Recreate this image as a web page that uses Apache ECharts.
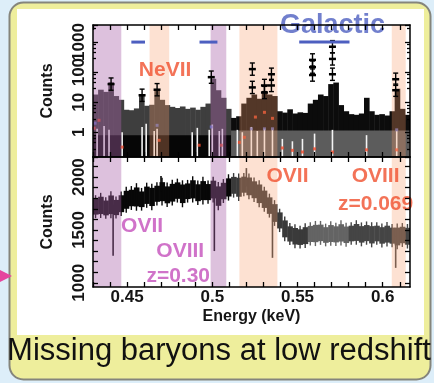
<!DOCTYPE html>
<html>
<head>
<meta charset="utf-8">
<title>Missing baryons at low redshift</title>
<script src="https://cdn.jsdelivr.net/npm/echarts@6/dist/echarts.min.js"></script>
<style>
  html, body { margin: 0; padding: 0; background: #ddeef9; }
  #chart { width: 434px; height: 383px; }
</style>
</head>
<body>
<div id="chart"></div>
<script>
// energy bin centres (keV), both panels use the same binning
const energy = [0.4315, 0.4345, 0.4375, 0.4405, 0.4435, 0.4465, 0.4495, 0.4525, 0.4555, 0.4585,
  0.4615, 0.4645, 0.4675, 0.4705, 0.4735, 0.4765, 0.4795, 0.4825, 0.4855, 0.4885,
  0.4915, 0.4945, 0.4975, 0.5005, 0.5035, 0.5065, 0.5095, 0.5125, 0.5155, 0.5185,
  0.5215, 0.5245, 0.5275, 0.5305, 0.5335, 0.5365, 0.5395, 0.5425, 0.5455, 0.5485,
  0.5515, 0.5545, 0.5575, 0.5605, 0.5635, 0.5665, 0.5695, 0.5725, 0.5755, 0.5785,
  0.5815, 0.5845, 0.5875, 0.5905, 0.5935, 0.5965, 0.5995, 0.6025, 0.6055, 0.6085,
  0.6115, 0.6145];

// upper panel (log counts)
const topCounts = [18, 26, 22, 46, 16, 12, 5.6, 5.4, 6.2, 18,
  7.6, 8.2, 26, 12, 8, 7, 6.4, 7.2, 6, 6.6,
  5.6, 7, 9, 60, 25, 14, 6, 3, 3.4, 9,
  14, 18, 13, 21, 18, 16, 5, 4.5, 5.8, 4.2,
  4.6, 4.4, 9, 12, 18, 16, 40, 45, 8, 5,
  4, 3.8, 4.2, 14, 5, 3.8, 4, 3.6, 5, 28,
  6, 3.8];

// lower panel (counts, band centre and half width)
const bottomCounts = [1720, 1732, 1708, 1738, 1712, 1748, 1785, 1802, 1812, 1790,
  1828, 1812, 1842, 1862, 1832, 1852, 1872, 1842, 1866, 1884,
  1852, 1872, 1858, 1882, 1820, 1868, 1902, 1922, 1904, 1928,
  1912, 1880, 1842, 1790, 1730, 1660, 1590, 1510, 1462, 1440,
  1432, 1446, 1462, 1466, 1472, 1452, 1466, 1458, 1472, 1454,
  1466, 1476, 1458, 1470, 1454, 1466, 1448, 1460, 1446, 1438,
  1452, 1440];
const bottomErr = [75, 82, 70, 88, 72, 80, 85, 78, 90, 74,
  82, 86, 76, 90, 80, 84, 78, 88, 74, 86,
  80, 90, 76, 84, 92, 78, 86, 80, 90, 76,
  84, 80, 88, 82, 78, 84, 76, 80, 72, 78,
  74, 80, 76, 82, 78, 74, 80, 76, 82, 78,
  74, 80, 78, 76, 82, 74, 78, 80, 76, 84,
  78, 80];
const bottomWhiskers = [[0.4418, 1255], [0.5012, 1300], [0.5353, 1236], [0.6076, 1141],
  [0.5200, 2085], [0.4699, 2010]];

// data points with error bars in the upper panel
const topPoints = [[0.4406, 40], [0.4588, 17], [0.4676, 26], [0.4994, 68],
  [0.5235, 126], [0.5235, 31], [0.5306, 36], [0.5306, 21], [0.5347, 85], [0.5347, 36],
  [0.5588, 255], [0.5588, 147], [0.5588, 80], [0.5705, 700], [0.5705, 275], [0.5705, 85],
  [0.6076, 58], [0.6076, 25]];
const topRedDots = [[0.4306, 1.36], [0.4335, 2.5], [0.4471, 0.32], [0.4688, 0.54], [0.4923, 0.37],
  [0.5053, 0.37], [0.5159, 0.46], [0.5188, 0.68], [0.5253, 3.2], [0.5306, 4.6], [0.5353, 2.9],
  [0.5411, 0.3], [0.547, 0.25], [0.5529, 0.22], [0.56, 0.28], [0.5705, 0.22], [0.5905, 0.26],
  [0.6082, 0.26]];
const topBlueDots = [[0.4312, 2.0], [0.4676, 1.7], [0.4994, 1.5], [0.5229, 1.3], [0.5306, 1.3],
  [0.5353, 1.3], [0.6082, 1.2]];
const zeroLines = [[0.4324, 1.3], [0.4365, 1.6], [0.4394, 1.2], [0.4471, 1.0], [0.4588, 1.5],
  [0.4612, 1.9], [0.4659, 1.1], [0.4676, 1.3], [0.4882, 1.0], [0.4912, 1.4], [0.4982, 1.2],
  [0.5, 1.8], [0.5041, 1.1], [0.5059, 1.3], [0.5147, 1.2], [0.5176, 1.0], [0.5229, 1.5],
  [0.5264, 1.1], [0.5306, 1.3], [0.5353, 1.2], [0.5411, 0.6], [0.547, 0.5], [0.5529, 0.6],
  [0.56, 0.9], [0.5705, 1.2], [0.5905, 0.8], [0.6082, 1.1]];
const lowStrip = [[0.43, 0.511, 0.8], [0.511, 0.616, 1.15]];

// line windows
const purpleBands = [[0.43, 0.4466], [0.499, 0.5082]];
const orangeBands = [[0.5159, 0.5382], [0.6053, 0.6135]];
const neviiBand = [[0.4632, 0.4747]];
const galacticBars = [[0.4525, 0.4605, 1000], [0.4925, 0.503, 1000], [0.551, 0.5805, 1000]];

// ticks
const xTicks = [0.43, 0.44, 0.45, 0.46, 0.47, 0.48, 0.49, 0.5, 0.51, 0.52,
  0.53, 0.54, 0.55, 0.56, 0.57, 0.58, 0.59, 0.6, 0.61];
const xLabels = [0.45, 0.5, 0.55, 0.6];
const countTicks = [1000, 1100, 1200, 1300, 1400, 1500, 1600, 1700, 1800, 1900, 2000, 2100];
const countLabels = [1000, 1500, 2000];

// annotations
const neviiNote = [{ name: 'NeVII', value: [0.4723, 117] }];
const galacticNote = [{ name: 'Galactic', value: [0.5705, 1000] }];
const redNotes = [{ name: 'OVII', value: [0.5441, 2009] }, { name: 'OVIII', value: [0.5958, 2009] },
  { name: 'z=0.069', value: [0.5958, 1745] }];
const pinkNotes = [{ name: 'OVII', value: [0.4588, 1537] }, { name: 'OVIII', value: [0.4812, 1302] },
  { name: 'z=0.30', value: [0.48, 1066] }];

const BIN = 0.003;
const FONT = 'Liberation Sans';
const PURPLE = 'rgba(170,100,170,0.4)';
const ORANGE = 'rgba(250,155,105,0.3)';

function gridBottom(params) { return params.coordSys.y + params.coordSys.height; }

function topFillColor(e) { return e < 0.511 ? '#3e3e3e' : '#0c0c0c'; }
function bottomFillColor(e) {
  if (e < 0.511) return '#080808';
  if (e < 0.557) return '#3a3a3a';
  if (e < 0.581) return '#646464';
  return '#454545';
}

function renderTopBin(params, api) {
  const e = api.value(0);
  const a = api.coord([e - BIN / 2, api.value(1)]);
  const b = api.coord([e + BIN / 2, api.value(1)]);
  return { type: 'rect', shape: { x: a[0], y: a[1], width: b[0] - a[0] + 0.5, height: gridBottom(params) - a[1] },
    style: { fill: topFillColor(e) } };
}

function renderStrip(params, api) {
  const a = api.coord([api.value(0), api.value(2)]);
  const b = api.coord([api.value(1), api.value(2)]);
  return { type: 'rect', shape: { x: a[0], y: a[1], width: b[0] - a[0], height: gridBottom(params) - a[1] },
    style: { fill: params.dataIndex === 0 ? '#060606' : '#5c5c5c' } };
}

function renderZero(params, api) {
  const a = api.coord([api.value(0), api.value(1)]);
  return { type: 'line', shape: { x1: a[0], y1: a[1], x2: a[0], y2: gridBottom(params) },
    style: { stroke: '#f4f4f4', lineWidth: 1.6 } };
}

function renderBand(color) {
  return function (params, api) {
    const cs = params.coordSys;
    const a = api.coord([api.value(0), 1000]);
    const b = api.coord([api.value(1), 1000]);
    return { type: 'rect', shape: { x: a[0], y: cs.y, width: b[0] - a[0], height: cs.height }, style: { fill: color } };
  };
}

function renderPoint(params, api) {
  const e = api.value(0), v = api.value(1);
  const c = api.coord([e, v]);
  const hi = api.coord([e, v * 1.6]);
  const lo = api.coord([e, v / 1.6]);
  const st = { stroke: '#000', lineWidth: 1.4 };
  return { type: 'group', children: [
    { type: 'line', shape: { x1: c[0], y1: hi[1], x2: c[0], y2: lo[1] }, style: st },
    { type: 'line', shape: { x1: c[0] - 3.5, y1: c[1], x2: c[0] + 3.5, y2: c[1] }, style: { stroke: '#000', lineWidth: 2.5 } },
    { type: 'line', shape: { x1: c[0] - 2.5, y1: hi[1], x2: c[0] + 2.5, y2: hi[1] }, style: st },
    { type: 'line', shape: { x1: c[0] - 2.5, y1: lo[1], x2: c[0] + 2.5, y2: lo[1] }, style: st }
  ] };
}

function renderGalactic(params, api) {
  const a = api.coord([api.value(0), api.value(2)]);
  const b = api.coord([api.value(1), api.value(2)]);
  return { type: 'line', shape: { x1: a[0], y1: a[1], x2: b[0], y2: b[1] }, style: { stroke: '#4d5fc0', lineWidth: 3 } };
}

function renderBottomBin(params, api) {
  const e = api.value(0), c = api.value(1), err = api.value(2);
  const a = api.coord([e - BIN / 2, c + err]);
  const b = api.coord([e + BIN / 2, c - err]);
  const hi = api.coord([e, c + err * 1.45]);
  const lo = api.coord([e, c - err * 1.45]);
  const fill = bottomFillColor(e);
  return { type: 'group', children: [
    { type: 'rect', shape: { x: a[0], y: a[1], width: b[0] - a[0] + 0.5, height: b[1] - a[1] }, style: { fill: fill } },
    { type: 'line', shape: { x1: hi[0], y1: hi[1], x2: lo[0], y2: lo[1] }, style: { stroke: fill, lineWidth: 1.4 } }
  ] };
}

function renderWhisker(params, api) {
  const e = api.value(0);
  let k = 0;
  energy.forEach(function (x, i) { if (Math.abs(x - e) < Math.abs(energy[k] - e)) k = i; });
  const a = api.coord([e, bottomCounts[k]]);
  const b = api.coord([e, api.value(1)]);
  return { type: 'line', shape: { x1: a[0], y1: a[1], x2: b[0], y2: b[1] }, style: { stroke: bottomFillColor(e), lineWidth: 1.6 } };
}

function custom(name, data, render, xi, yi, z) {
  return { name: name, type: 'custom', xAxisIndex: xi, yAxisIndex: yi, data: data, renderItem: render,
    clip: true, silent: true, z: z };
}

function dots(data, color, xi, yi) {
  return { type: 'scatter', xAxisIndex: xi, yAxisIndex: yi, data: data, symbol: 'rect', symbolSize: 3,
    itemStyle: { color: color }, silent: true, z: 4 };
}

function notes(data, color, size, xi, yi, pos, dist) {
  return { type: 'scatter', xAxisIndex: xi, yAxisIndex: yi, data: data, symbolSize: 1,
    itemStyle: { color: 'rgba(0,0,0,0)' }, silent: true, z: 8,
    label: { show: true, position: pos, distance: dist, formatter: function (p) { return p.name; },
      color: color, fontSize: size, fontWeight: 'bold', fontFamily: FONT } };
}

const frame = { onZero: false, lineStyle: { color: '#000', width: 1.5 } };
const tickStyle = { color: '#000', width: 1.3 };
const labelFont = { color: '#151515', fontSize: 17, fontWeight: 'bold', fontFamily: FONT };
const nameFont = { color: '#151515', fontSize: 16, fontWeight: 'bold', fontFamily: FONT };

function xAxisFor(grid, pos, showLabels) {
  const ax = {
    type: 'value', gridIndex: grid, position: pos, min: 0.43, max: 0.616, z: 10,
    axisLine: frame,
    axisTick: { inside: true, length: 5, customValues: xTicks, lineStyle: tickStyle },
    axisLabel: showLabels ? Object.assign({ customValues: xLabels, margin: 2 }, labelFont) : { show: false },
    splitLine: { show: false }
  };
  if (showLabels) {
    ax.name = 'Energy (keV)';
    ax.nameLocation = 'middle';
    ax.nameGap = 22;
    ax.nameTextStyle = nameFont;
  }
  return ax;
}

function logAxis(pos, showLabels) {
  const ax = {
    type: 'log', logBase: 10, gridIndex: 0, position: pos, min: 0.15, max: 3700, z: 10,
    axisLine: frame,
    axisTick: { inside: true, length: 5, lineStyle: tickStyle },
    minorTick: { show: true, splitNumber: 5, length: 3, lineStyle: tickStyle },
    axisLabel: showLabels ? Object.assign({ rotate: 90, margin: 5, showMinLabel: false, showMaxLabel: false,
      formatter: function (v) { return v >= 1 ? String(Math.round(v)) : String(v); } }, labelFont) : { show: false },
    splitLine: { show: false }
  };
  if (showLabels) {
    ax.name = 'Counts';
    ax.nameLocation = 'middle';
    ax.nameGap = 37;
    ax.nameTextStyle = nameFont;
  }
  return ax;
}

function countAxis(pos, showLabels) {
  const ax = {
    type: 'value', gridIndex: 1, position: pos, min: 960, max: 2190, z: 10,
    axisLine: frame,
    axisTick: { inside: true, length: 5, customValues: countTicks, lineStyle: tickStyle },
    axisLabel: showLabels ? Object.assign({ rotate: 90, margin: 5, customValues: countLabels,
      formatter: function (v) { return String(v); } }, labelFont) : { show: false },
    splitLine: { show: false }
  };
  if (showLabels) {
    ax.name = 'Counts';
    ax.nameLocation = 'middle';
    ax.nameGap = 37;
    ax.nameTextStyle = nameFont;
  }
  return ax;
}

const chart = echarts.init(document.getElementById('chart'), null, { renderer: 'canvas' });

chart.setOption({
  backgroundColor: '#ddeef9',
  animation: false,
  textStyle: { fontFamily: FONT },
  graphic: [
    { type: 'rect', silent: true, shape: { x: 9.5, y: 2.5, width: 421, height: 377, r: 14 },
      style: { fill: '#eeee9c', stroke: '#85857c', lineWidth: 2 } },
    { type: 'rect', silent: true, shape: { x: 17, y: 9, width: 407, height: 326 }, style: { fill: '#ffffff' } },
    { type: 'polygon', silent: true, shape: { points: [[0, 270], [12, 276], [0, 282]] }, style: { fill: '#e6459e' } },
    { type: 'text', silent: true, x: 219, y: 351,
      style: { text: 'Missing baryons at low redshift', font: '31px "Liberation Sans"', fill: '#111',
        textAlign: 'center', textVerticalAlign: 'middle' } }
  ],
  grid: [
    { left: 93, top: 25, width: 317, height: 132 },
    { left: 93, top: 157, width: 317, height: 130 }
  ],
  xAxis: [xAxisFor(0, 'bottom', false), xAxisFor(0, 'top', false), xAxisFor(1, 'bottom', true), xAxisFor(1, 'top', false)],
  yAxis: [logAxis('left', true), logAxis('right', false), countAxis('left', true), countAxis('right', false)],
  series: [
    // upper panel
    custom('topSpectrum', energy.map(function (e, i) { return [e, topCounts[i]]; }), renderTopBin, 0, 0, 2),
    custom('lowStrip', lowStrip, renderStrip, 0, 0, 3),
    custom('zeroBins', zeroLines, renderZero, 0, 0, 4),
    dots(topRedDots, '#ee4a2c', 0, 0),
    dots(topBlueDots, '#6a78cc', 0, 0),
    custom('purpleTop', purpleBands, renderBand(PURPLE), 0, 0, 5),
    custom('orangeTop', orangeBands, renderBand(ORANGE), 0, 0, 5),
    custom('neviiTop', neviiBand, renderBand(ORANGE), 0, 0, 5),
    custom('points', topPoints, renderPoint, 0, 0, 6),
    custom('galactic', galacticBars, renderGalactic, 0, 0, 6),
    notes(neviiNote, '#f0502e', 21, 0, 0, 'inside', 0),
    notes(galacticNote, '#4d5fc0', 27, 0, 0, 'top', 3),
    // lower panel
    custom('bottomSpectrum', energy.map(function (e, i) { return [e, bottomCounts[i], bottomErr[i]]; }), renderBottomBin, 2, 2, 2),
    custom('whiskers', bottomWhiskers, renderWhisker, 2, 2, 3),
    custom('purpleBottom', purpleBands, renderBand(PURPLE), 2, 2, 5),
    custom('orangeBottom', orangeBands, renderBand(ORANGE), 2, 2, 5),
    notes(redNotes, '#f0502e', 21, 2, 2, 'inside', 0),
    notes(pinkNotes, '#c450bc', 21, 2, 2, 'inside', 0)
  ]
});
</script>
</body>
</html>
